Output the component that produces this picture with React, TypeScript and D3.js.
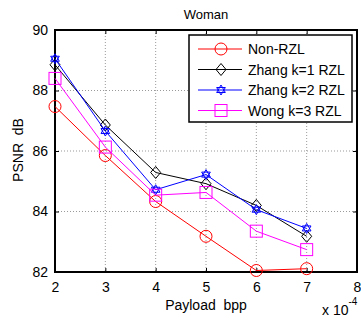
import { useRef, useEffect } from "react";
import * as d3 from "d3";

const payload = [2, 3, 4, 5, 6, 7];
const nonRzl = [87.47, 85.85, 84.33, 83.18, 82.05, 82.11];
const zhangK1 = [88.85, 86.86, 85.29, 84.92, 84.2, 83.18];
const zhangK2 = [89.05, 86.66, 84.72, 85.22, 84.06, 83.44];
const wongK3 = [88.4, 86.13, 84.54, 84.63, 83.35, 82.74];
const xTicks = [2, 3, 4, 5, 6, 7, 8];
const yTicks = [82, 84, 86, 88, 90];
const seriesNames = ["Non-RZL", "Zhang k=1 RZL", "Zhang k=2 RZL", "Wong k=3 RZL"];
const seriesColors = ["#ff0000", "#000000", "#0000ff", "#ff00ff"];
const seriesMarkers = ["circle", "diamond", "star", "square"];

const W = 361
const H = 320

const App = () => {
    const svgRef = useRef(null)

    useEffect(() => {
        const margins = { top: 30, left: 55, bottom: 48, right: 4 }
        const width = W - margins.left - margins.right
        const height = H - margins.top - margins.bottom
        const svg = d3.select(svgRef.current)
        svg.selectAll("*").remove()
        const font = "Arial, 'Liberation Sans', sans-serif"

        const xScale = d3.scaleLinear().domain([2, 8]).range([0, width])
        const yScale = d3.scaleLinear().domain([82, 90]).range([height, 0])

        const g = svg.append("g")
            .attr("transform", `translate(${margins.left}, ${margins.top})`)

        // grid
        g.selectAll(".gx").data(xTicks.slice(1, -1)).enter().append("line")
            .attr("x1", d => xScale(d)).attr("x2", d => xScale(d))
            .attr("y1", 0).attr("y2", height)
            .attr("stroke", "#555").attr("stroke-width", 0.6).attr("stroke-dasharray", "1,2")
        g.selectAll(".gy").data(yTicks.slice(1, -1)).enter().append("line")
            .attr("y1", d => yScale(d)).attr("y2", d => yScale(d))
            .attr("x1", 0).attr("x2", width)
            .attr("stroke", "#555").attr("stroke-width", 0.6).attr("stroke-dasharray", "1,2")

        // axes
        const xAxis = g.append("g")
            .attr("transform", `translate(0, ${height})`)
            .call(d3.axisBottom(xScale).tickValues(xTicks).tickSize(-4).tickPadding(10).tickFormat(d3.format("d")))
        const yAxis = g.append("g")
            .call(d3.axisLeft(yScale).tickValues(yTicks).tickSize(-4).tickPadding(7).tickFormat(d3.format("d")))
        g.append("g")
            .call(d3.axisTop(xScale).tickValues(xTicks).tickSize(-4).tickFormat(() => ""))
        g.append("g")
            .attr("transform", `translate(${width}, 0)`)
            .call(d3.axisRight(yScale).tickValues(yTicks).tickSize(-4).tickFormat(() => ""))
        g.selectAll(".domain").remove()
        g.selectAll(".tick line").attr("stroke", "#000")
        ;[xAxis, yAxis].forEach(a => a.selectAll("text")
            .attr("font-family", font).attr("font-size", 14).attr("fill", "#000"))

        g.append("rect")
            .attr("width", width).attr("height", height)
            .attr("fill", "none").attr("stroke", "#000").attr("stroke-width", 2)

        const allSeries = [nonRzl, zhangK1, zhangK2, wongK3]

        const drawMarker = (sel, type, color, x, y) => {
            if (type === "circle") {
                sel.append("circle").attr("cx", x).attr("cy", y).attr("r", 6)
                    .attr("fill", "none").attr("stroke", color).attr("stroke-width", 1)
            } else if (type === "diamond") {
                sel.append("path").attr("d", `M${x},${y - 6}L${x + 5},${y}L${x},${y + 6}L${x - 5},${y}Z`)
                    .attr("fill", "none").attr("stroke", color).attr("stroke-width", 1)
            } else if (type === "square") {
                sel.append("rect").attr("x", x - 6).attr("y", y - 6).attr("width", 12).attr("height", 12)
                    .attr("fill", "none").attr("stroke", color).attr("stroke-width", 1)
            } else {
                const r = 5
                const p = d3.range(6).map(i => {
                    const a = -Math.PI / 2 + i * Math.PI / 3
                    return [x + r * Math.cos(a), y + r * Math.sin(a)]
                })
                ;[[p[0], p[2], p[4]], [p[1], p[3], p[5]]].forEach(t => {
                    sel.append("path").attr("d", "M" + t.map(q => q.join(",")).join("L") + "Z")
                        .attr("fill", "none").attr("stroke", color).attr("stroke-width", 1)
                })
            }
        }

        const lineGenerator = d3.line()
            .x((d, i) => xScale(payload[i]))
            .y(d => yScale(d))

        allSeries.forEach((s, k) => {
            g.append("path")
                .datum(s)
                .attr("d", lineGenerator)
                .attr("stroke", seriesColors[k])
                .attr("stroke-width", 1)
                .attr("fill", "none")
            s.forEach((v, i) => drawMarker(g, seriesMarkers[k], seriesColors[k], xScale(payload[i]), yScale(v)))
        })

        // legend
        const lg = svg.append("g").attr("transform", "translate(189, 35)")
        lg.append("rect").attr("width", 163).attr("height", 87)
            .attr("fill", "#fff").attr("stroke", "#000").attr("stroke-width", 1.5)
        seriesNames.forEach((name, k) => {
            const yy = 14 + k * 20.5
            lg.append("line").attr("x1", 9).attr("x2", 53).attr("y1", yy).attr("y2", yy)
                .attr("stroke", seriesColors[k]).attr("stroke-width", 1)
            drawMarker(lg, seriesMarkers[k], seriesColors[k], 32, yy)
            lg.append("text").attr("x", 59).attr("y", yy + 5)
                .attr("font-family", font).attr("font-size", 14).text(name)
        })

        // titles
        svg.append("text").attr("x", margins.left + width / 2).attr("y", 19)
            .attr("text-anchor", "middle").attr("font-family", font).attr("font-size", 13).text("Woman")
        svg.append("text").attr("x", margins.left + width / 2).attr("y", 310)
            .attr("text-anchor", "middle").attr("font-family", font).attr("font-size", 14)
            .attr("xml:space", "preserve").text("Payload  bpp")
        svg.append("text").attr("transform", `translate(23, 150) rotate(-90)`)
            .attr("text-anchor", "middle").attr("font-family", font).attr("font-size", 14)
            .attr("xml:space", "preserve").text("PSNR  dB")
        const sci = svg.append("text").attr("x", 322).attr("y", 315)
            .attr("font-family", font).attr("font-size", 14)
        sci.append("tspan").text("x 10")
        sci.append("tspan").attr("dy", -10).attr("font-size", 10).text("-4")
    }, [])

    return (
        <svg ref={svgRef} width={W} height={H} style={{ position: "absolute", left: 0, top: 0, background: "#fff" }}></svg>
    )
}

export default App;
